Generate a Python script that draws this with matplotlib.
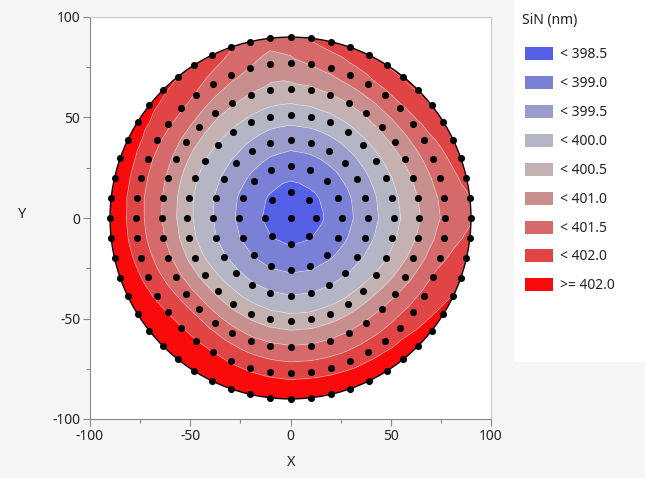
import numpy as np
import matplotlib
matplotlib.use("Agg")
import matplotlib.pyplot as plt
from matplotlib.patches import Rectangle, Circle

plt.rcParams['font.family'] = ['Noto Sans', 'DejaVu Sans']
plt.rcParams['axes.unicode_minus'] = False

# ---- data -------------------------------------------------------------
ring_radius = [12.86, 25.71, 38.57, 51.43, 64.29, 77.14, 90.0]
ring_count = [8, 16, 24, 32, 40, 48, 56]
center_value = 398.15
# values per ring, starting at the top point and going clockwise
ring1 = [398.32, 398.35, 398.38, 398.45, 398.47, 398.48, 398.46, 398.40]
ring2 = [398.74, 398.75, 398.76, 398.77, 398.79, 398.83, 398.87, 398.90,
         398.93, 398.95, 398.96, 398.94, 398.92, 398.88, 398.84, 398.78]
ring3 = [399.17, 399.18, 399.20, 399.22, 399.24, 399.25, 399.27, 399.32,
         399.38, 399.44, 399.48, 399.50, 399.51, 399.54, 399.57, 399.59,
         399.56, 399.52, 399.50, 399.46, 399.42, 399.38, 399.30, 399.22]
ring4 = [399.73, 399.75, 399.77, 399.80, 399.83, 399.84, 399.84, 399.83,
         399.82, 399.88, 399.96, 400.06, 400.15, 400.18, 400.20, 400.20,
         400.21, 400.25, 400.30, 400.33, 400.35, 400.30, 400.22, 400.17,
         400.14, 400.10, 400.05, 400.00, 399.96, 399.90, 399.83, 399.76]
ring5 = [400.36, 400.40, 400.46, 400.52, 400.58, 400.62, 400.62, 400.58,
         400.53, 400.50, 400.47, 400.55, 400.66, 400.80, 400.93, 401.02,
         401.05, 401.05, 401.05, 401.05, 401.06, 401.10, 401.15, 401.22,
         401.28, 401.32, 401.28, 401.20, 401.12, 401.05, 401.00, 400.97,
         400.93, 400.88, 400.82, 400.76, 400.66, 400.56, 400.46, 400.38]
ring6 = [400.88, 401.02, 401.15, 401.28, 401.35, 401.38, 401.40, 401.38,
         401.34, 401.28, 401.22, 401.15, 401.12, 401.25, 401.40, 401.55,
         401.65, 401.72, 401.77, 401.78, 401.80, 401.80, 401.82, 401.83,
         401.83, 401.86, 401.90, 401.95, 402.00, 402.02, 402.02, 401.98,
         401.90, 401.84, 401.80, 401.76, 401.74, 401.70, 401.68, 401.65,
         401.62, 401.60, 401.56, 401.45, 401.30, 401.15, 400.98, 400.78]
ring7 = [401.30, 401.55, 401.70, 401.78, 401.85, 402.00, 402.05, 402.04,
         401.95, 401.85, 401.75, 401.70, 401.62, 401.48, 401.45, 401.60,
         401.78, 401.92, 402.02, 402.12, 402.20, 402.30, 402.35, 402.40,
         402.42, 402.45, 402.47, 402.50, 402.50, 402.52, 402.55, 402.58,
         402.62, 402.66, 402.70, 402.70, 402.68, 402.62, 402.55, 402.50,
         402.46, 402.45, 402.45, 402.45, 402.45, 402.42, 402.35, 402.25,
         402.15, 402.08, 402.00, 401.90, 401.75, 401.55, 401.35, 401.20]
ring_values = [ring1, ring2, ring3, ring4, ring5, ring6, ring7]

levels = [390.0, 398.5, 399.0, 399.5, 400.0, 400.5, 401.0, 401.5, 402.0, 410.0]
legend_labels = ['< 398.5', '< 399.0', '< 399.5', '< 400.0', '< 400.5',
                 '< 401.0', '< 401.5', '< 402.0', '>= 402.0']
band_colors = ['#5560E6', '#7A80D6', '#9A9DCB', '#B4B5C5', '#C4B2B2',
               '#C98F8F', '#D66A6A', '#E04444', '#FA0A0A']
x_ticks = [-100, -50, 0, 50, 100]
y_ticks = [-100, -50, 0, 50, 100]

# ---- build point coordinates ------------------------------------------
xs, ys, zs = [0.0], [0.0], [center_value]
for r, n, vals in zip(ring_radius, ring_count, ring_values):
    ang = np.deg2rad(90.0 - np.arange(n) * 360.0 / n)
    xs.extend(r * np.cos(ang))
    ys.extend(r * np.sin(ang))
    zs.extend(vals)
xs, ys, zs = np.array(xs), np.array(ys), np.array(zs)

# ---- figure -----------------------------------------------------------
W, H = 645, 478
fig = plt.figure(figsize=(W / 100, H / 100), dpi=100, facecolor='#F6F6F6')

bg = fig.add_axes([0, 0, 1, 1], zorder=0)
bg.set_xlim(0, W)
bg.set_ylim(H, 0)
bg.axis('off')
bg.add_patch(Rectangle((514, 0), W - 514, 362, facecolor='white', edgecolor='none'))

L, R, T, B = 90, 491, 17, 419
ax = fig.add_axes([L / W, 1 - B / H, (R - L) / W, (B - T) / H], zorder=2)
ax.set_facecolor('white')

tcf = ax.tricontourf(xs, ys, zs, levels=levels, colors=band_colors, antialiased=True)
clip = Circle((0, 0), ring_radius[-1], transform=ax.transData)
tcf.set_clip_path(clip)
tcl = ax.tricontour(xs, ys, zs, levels=levels[1:-1], colors='white',
                    linewidths=0.6, alpha=0.35)
tcl.set_clip_path(Circle((0, 0), ring_radius[-1], transform=ax.transData))
ax.add_patch(Circle((0, 0), ring_radius[-1], fill=False, ec='black', lw=1.0, zorder=3))
ax.scatter(xs, ys, s=26, c='black', zorder=4, linewidths=0)

ax.set_xlim(-100, 100)
ax.set_ylim(-100, 100)
ax.set_xticks(x_ticks)
ax.set_yticks(y_ticks)
ax.set_xticks([-75, -25, 25, 75], minor=True)
ax.set_yticks([-75, -25, 25, 75], minor=True)
ax.set_xticklabels([str(v) for v in x_ticks])
ax.set_yticklabels([str(v) for v in y_ticks])
ax.tick_params(which='major', length=5, width=0.8, color='#888888',
               labelsize=10, labelcolor='#222222', pad=2)
ax.tick_params(which='minor', length=3, width=0.8, color='#888888')
for side in ['left', 'bottom']:
    ax.spines[side].set_color('#888888')
for side in ['top', 'right']:
    ax.spines[side].set_color('#C8C8C8')

fig.text(291 / W, 1 - 463 / H, 'X', ha='center', va='center', fontsize=10.5, color='#222222')
fig.text(22 / W, 1 - 215 / H, 'Y', ha='center', va='center', fontsize=10.5, color='#222222')

# legend
lg = fig.add_axes([0, 0, 1, 1], zorder=5)
lg.set_xlim(0, W)
lg.set_ylim(H, 0)
lg.axis('off')
lg.patch.set_alpha(0)
lg.text(522, 20, 'SiN (nm)', ha='left', va='center', fontsize=10, color='#222222')
y0, dy = 53.3, 28.95
for i, (lab, col) in enumerate(zip(legend_labels, band_colors)):
    yc = y0 + i * dy
    lg.add_patch(Rectangle((525, yc - 6.5), 28, 13, facecolor=col, edgecolor='none'))
    lg.text(560, yc + 1, lab, ha='left', va='center', fontsize=10, color='#222222')

fig.savefig('out.png', dpi=100, facecolor=fig.get_facecolor())
